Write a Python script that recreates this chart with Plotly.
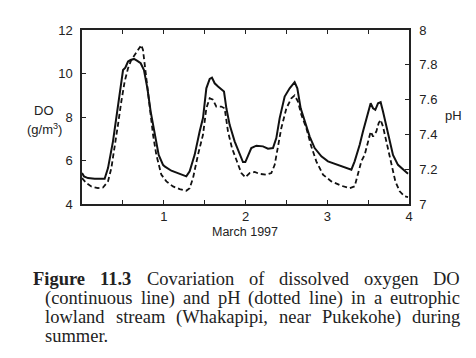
import plotly.graph_objects as go

# DO (g/m3), solid line
do_day = [0, 0.024, 0.073, 0.155, 0.277, 0.318, 0.379, 0.44, 0.481, 0.502, 0.53, 0.563, 0.595, 0.636,
          0.677, 0.718, 0.758, 0.80, 0.84, 0.889, 0.938, 0.991, 1.011, 1.093, 1.174, 1.276, 1.317,
          1.378, 1.439, 1.48, 1.521, 1.562, 1.59, 1.623, 1.664, 1.704, 1.737, 1.766, 1.806, 1.867,
          1.929, 1.969, 1.998, 2.031, 2.071, 2.133, 2.214, 2.275, 2.336, 2.377, 2.418, 2.479, 2.54,
          2.601, 2.634, 2.675, 2.724, 2.785, 2.846, 2.928, 3.009, 3.091, 3.172, 3.254, 3.295, 3.335,
          3.397, 3.437, 3.466, 3.498, 3.531, 3.56, 3.588, 3.621, 3.653, 3.682, 3.743, 3.804, 3.865,
          3.927, 3.988]
do_val = [5.42, 5.27, 5.19, 5.16, 5.16, 5.65, 6.88, 8.56, 9.7, 10.16, 10.27, 10.55, 10.62, 10.67,
          10.58, 10.47, 10.16, 9.32, 8.25, 7.18, 6.26, 5.8, 5.73, 5.53, 5.42, 5.27, 5.5,
          6.26, 7.33, 7.95, 9.32, 9.75, 9.81, 9.55, 9.4, 9.25, 9.17, 8.4, 7.64, 6.88,
          6.26, 5.93, 5.93, 6.26, 6.57, 6.68, 6.65, 6.54, 6.57, 7.03, 7.95, 8.94, 9.32,
          9.6, 9.32, 8.4, 7.8, 7.1, 6.57, 6.19, 5.96, 5.85, 5.77, 5.65, 5.58, 5.96,
          6.72, 7.33, 7.72, 8.1, 8.63, 8.4, 8.33, 8.63, 8.68, 8.25, 7.18, 6.26, 5.8,
          5.58, 5.39]

# pH, dotted line
ph_day = [0, 0.053, 0.114, 0.196, 0.257, 0.318, 0.359, 0.40, 0.44, 0.481, 0.522, 0.563, 0.603, 0.644,
          0.685, 0.726, 0.746, 0.767, 0.80, 0.828, 0.869, 0.909, 0.97, 1.032, 1.113, 1.195, 1.276,
          1.317, 1.358, 1.419, 1.48, 1.521, 1.562, 1.602, 1.643, 1.704, 1.745, 1.786, 1.835, 1.888,
          1.949, 1.998, 2.051, 2.112, 2.173, 2.255, 2.316, 2.357, 2.398, 2.438, 2.5, 2.561, 2.601,
          2.642, 2.683, 2.744, 2.805, 2.866, 2.948, 3.05, 3.172, 3.274, 3.335, 3.376, 3.417, 3.458,
          3.498, 3.531, 3.56, 3.6, 3.629, 3.653, 3.682, 3.723, 3.784, 3.833, 3.886, 3.947, 3.988]
ph_val = [7.149, 7.12, 7.101, 7.091, 7.095, 7.13, 7.206, 7.321, 7.455, 7.589, 7.704, 7.78, 7.828, 7.856,
          7.885, 7.914, 7.885, 7.799, 7.665, 7.55, 7.398, 7.283, 7.169, 7.13, 7.101, 7.086, 7.076,
          7.091, 7.149, 7.283, 7.398, 7.55, 7.608, 7.599, 7.56, 7.56, 7.55, 7.416, 7.321, 7.254,
          7.178, 7.153, 7.178, 7.184, 7.173, 7.169, 7.178, 7.225, 7.321, 7.436, 7.55, 7.608, 7.624,
          7.589, 7.513, 7.436, 7.331, 7.245, 7.169, 7.13, 7.105, 7.091, 7.101, 7.169, 7.245, 7.283,
          7.36, 7.416, 7.388, 7.416, 7.465, 7.484, 7.445, 7.36, 7.225, 7.13, 7.073, 7.044, 7.04]

x_tickvals = [1, 2, 3, 4]
x_ticktext = ["1", "2", "3", "4"]
do_ticks = [4, 6, 8, 10, 12]
ph_ticks = [7, 7.2, 7.4, 7.6, 7.8, 8]
ph_ticktext = ["7", "7.2", "7.4", "7.6", "7.8", "8"]

# caption, one list of words per line (bold words flagged)
caption_lines = [
    ["Figure", "11.3", "Covariation", "of", "dissolved", "oxygen", "DO"],
    ["(continuous", "line)", "and", "pH", "(dotted", "line)", "in", "a", "eutrophic"],
    ["lowland", "stream", "(Whakapipi,", "near", "Pukekohe)", "during"],
    ["summer."],
]
bold_words = {(0, 0), (0, 1)}

# page-pixel layout
L, R, T, B = 74, 401, 22, 196
W, H = 476, 358

# approximate Times (Liberation Serif) advance widths, 1/1000 em, for justification
REG = dict(zip("abcdefghijklmnopqrstuvwxyz", [444, 500, 444, 500, 444, 333, 500, 500, 278, 278, 500, 278, 778,
                                              500, 500, 500, 500, 333, 389, 278, 500, 500, 722, 500, 500, 444]))
REG.update({"C": 667, "D": 722, "F": 556, "H": 722, "P": 556, "W": 944, "O": 722,
            "(": 333, ")": 333, ",": 250, ".": 250, " ": 250})
REG.update({d: 500 for d in "0123456789"})
BOLD = dict(REG)
BOLD.update({"F": 611, "u": 556, "r": 444, "i": 278, "g": 500, "e": 444, ".": 250})


def px(x):
    return (x - L) / (R - L)


def py(y):
    return 1 - (y - T) / (B - T)


def text_w(s, size, bold=False):
    tab = BOLD if bold else REG
    return sum(tab.get(c, 500) for c in s) * size / 1000.0


fig = go.Figure()
fig.add_trace(go.Scatter(x=do_day, y=do_val, mode="lines",
                         line=dict(color="#111", width=2), yaxis="y"))
fig.add_trace(go.Scatter(x=ph_day, y=ph_val, mode="lines",
                         line=dict(color="#111", width=1.8, dash="5px,3px"), yaxis="y2"))

axfont = dict(family="Liberation Sans, Arial, sans-serif", size=13, color="#222")
fig.update_layout(
    width=W, height=H,
    margin=dict(l=L, r=W - R, t=T, b=H - B),
    paper_bgcolor="white", plot_bgcolor="white",
    showlegend=False,
    font=axfont,
    xaxis=dict(range=[0, 4], tickvals=x_tickvals, ticktext=x_ticktext,
               ticks="inside", ticklen=4, tickwidth=1, tickcolor="#222",
               minor=dict(tickvals=[0.5, 1.5, 2.5, 3.5], ticks="inside", ticklen=4,
                          tickcolor="#222", showgrid=False),
               showline=True, linecolor="#222", linewidth=1.5, mirror="allticks",
               showgrid=False, zeroline=False, tickfont=axfont, ticklabelstandoff=0),
    yaxis=dict(range=[4, 12], tickvals=do_ticks, ticks="inside", ticklen=4, tickcolor="#222",
               showline=True, linecolor="#222", linewidth=1.5,
               showgrid=False, zeroline=False, tickfont=axfont, ticklabelstandoff=5),
    yaxis2=dict(range=[7, 8], tickvals=ph_ticks, ticktext=ph_ticktext,
                overlaying="y", side="right", ticks="inside", ticklen=4, tickcolor="#222",
                showline=True, linecolor="#222", linewidth=1.5,
                showgrid=False, zeroline=False, tickfont=axfont, ticklabelstandoff=6),
)

small = dict(axfont, size=12.5)
fig.add_annotation(xref="paper", yref="paper", x=px(237), y=py(224),
                   text="March 1997", showarrow=False, font=small, xanchor="center", yanchor="middle",
                   borderpad=0)
fig.add_annotation(xref="paper", yref="paper", x=px(36), y=py(102),
                   text="DO", showarrow=False, font=axfont, xanchor="center", yanchor="middle")
fig.add_annotation(xref="paper", yref="paper", x=px(36), y=py(121),
                   text="(g/m<sup>3</sup>)", showarrow=False, font=axfont, xanchor="center", yanchor="middle")
fig.add_annotation(xref="paper", yref="paper", x=px(445), y=py(108),
                   text="pH", showarrow=False, font=axfont, xanchor="center", yanchor="middle")

cap_size = 18.5
cap_font = dict(family="Liberation Serif, Times New Roman, serif", size=cap_size, color="#222")
line_left = [24, 36, 36, 36]
line_y = [271, 290, 309, 328]
right_edge = 451
justify = [True, True, True, False]
for li, words in enumerate(caption_lines):
    widths = [text_w(w, cap_size, (li, wi) in bold_words) for wi, w in enumerate(words)]
    if justify[li] and len(words) > 1:
        gap = (right_edge - line_left[li] - sum(widths)) / (len(words) - 1)
    else:
        gap = text_w(" ", cap_size)
    xcur = line_left[li]
    for wi, (w, wd) in enumerate(zip(words, widths)):
        label = f"<b>{w}</b>" if (li, wi) in bold_words else w
        fig.add_annotation(xref="paper", yref="paper", x=px(xcur), y=py(line_y[li]),
                           text=label, showarrow=False, font=cap_font,
                           xanchor="left", yanchor="middle", borderpad=0)
        xcur += wd + gap

fig.write_html("out.html")
